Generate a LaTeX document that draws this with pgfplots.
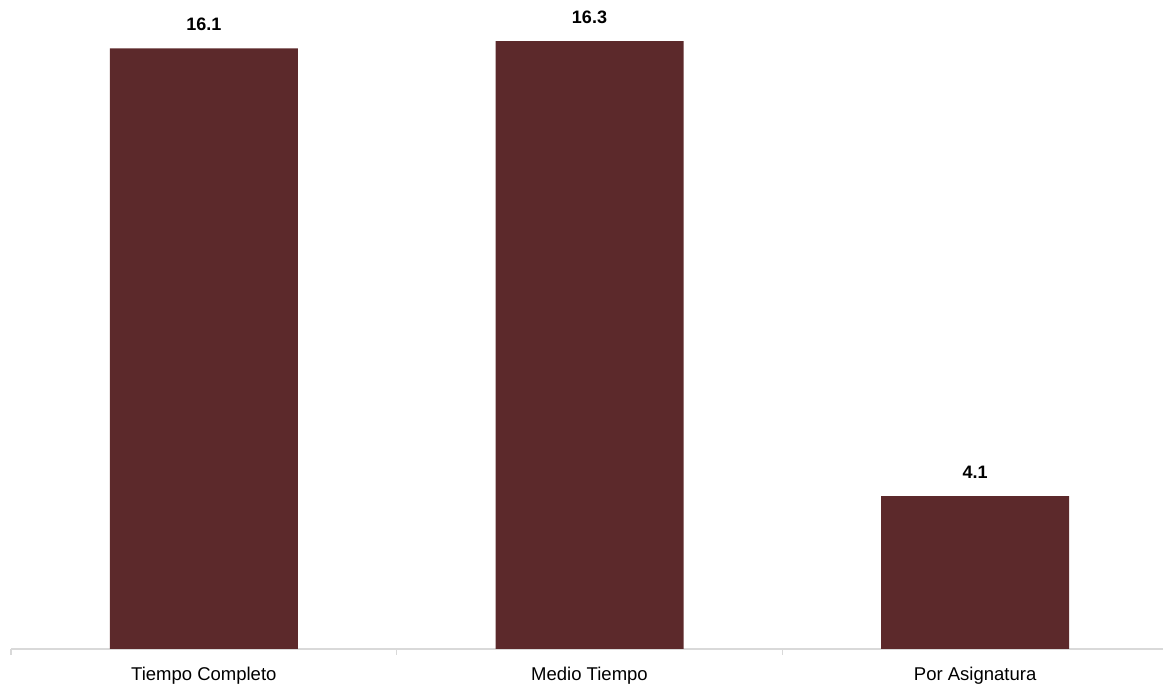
\documentclass[border=0pt]{standalone}
\usepackage{fontspec}
\setmainfont{Liberation Sans}
\usepackage{pgfplots}
\pgfplotsset{compat=1.18}
\definecolor{barcol}{RGB}{92,41,43}
\definecolor{axgray}{RGB}{217,217,217}
\begin{document}
\begin{tikzpicture}
\path[use as bounding box] (0,0) rectangle (1163pt,687pt);
\begin{axis}[
  at={(11pt,38pt)}, anchor=south west,
  scale only axis,
  width=1152pt, height=649pt,
  xmin=-0.5, xmax=2.487,
  ymin=0, ymax=17.4,
  axis y line=none,
  axis x line*=bottom,
  x axis line style={draw=axgray, line width=1.5pt},
  xtick={0,1,2},
  xticklabels={Tiempo Completo, Medio Tiempo, Por Asignatura},
  major tick length=0pt,
  xticklabel style={font=\fontsize{18.5}{20}\selectfont, anchor=base, inner sep=0pt, yshift=-32pt},
  extra x ticks={-0.5,0.5,1.5},
  extra x tick labels={},
  extra x tick style={tick align=outside, major tick length=6pt, tick style={draw=axgray, line width=1.5pt}},
  ybar,
  bar width=188pt,
  nodes near coords,
  every node near coord/.append style={font=\bfseries\fontsize{18}{20}\selectfont, anchor=base, inner sep=0pt, yshift=18pt, text=black},
  point meta=explicit symbolic,
]
\addplot[fill=barcol, draw=none] coordinates {(0,16.1) [16.1] (1,16.3) [16.3] (2,4.1) [4.1]};
\end{axis}
\end{tikzpicture}
\end{document}
